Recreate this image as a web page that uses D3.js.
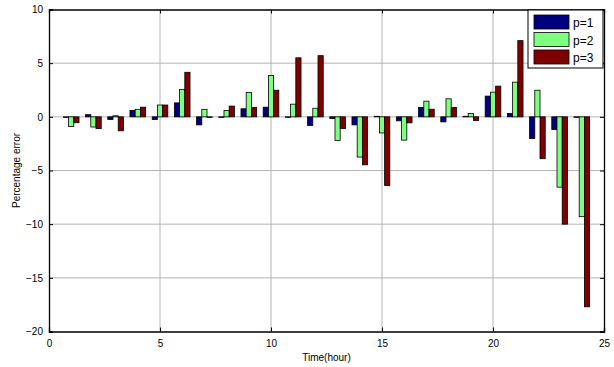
<!DOCTYPE html>
<html>
<head>
<meta charset="utf-8">
<script src="https://cdn.jsdelivr.net/npm/d3@7"></script>
<style>
  body { margin: 0; background: #fff; }
  text { font-family: "Liberation Sans", Arial, sans-serif; }
</style>
</head>
<body>
<div id="chart"></div>
<script>
// hours 1..24, percentage error per model order p
const hours = d3.range(1, 25);
const p1 = [-0.05, 0.2, -0.25, 0.6, -0.25, 1.3, -0.75, -0.05, 0.75, 0.9, -0.05, -0.8,
            -0.15, -0.75, 0.05, -0.37, 0.87, -0.47, 0.05, 1.93, 0.31, -2.02, -1.18, -0.05];
const p2 = [-0.9, -0.95, 0.1, 0.7, 1.1, 2.55, 0.7, 0.6, 2.27, 3.85, 1.18, 0.8,
            -2.2, -3.75, -1.5, -2.17, 1.46, 1.68, 0.31, 2.3, 3.23, 2.48, -6.55, -9.3];
const p3 = [-0.55, -1.1, -1.3, 0.9, 1.1, 4.15, -0.05, 1.0, 0.87, 2.48, 5.5, 5.7,
            -1.1, -4.47, -6.4, -0.56, 0.71, 0.87, -0.34, 2.86, 7.1, -3.9, -10.0, -17.7];
const seriesNames = ['p=1', 'p=2', 'p=3'];
const seriesColors = ['#00007f', '#7fff7f', '#7f0000'];
const xTicks = [0, 5, 10, 15, 20, 25];
const yTicks = [-20, -15, -10, -5, 0, 5, 10];

const width = 614, height = 367;
const margin = {left: 49, right: 10, top: 9.5, bottom: 35.5};

const svg = d3.select('#chart').append('svg').attr('width', width).attr('height', height);

const x = d3.scaleLinear().domain([0, 25]).range([margin.left, width - margin.right]);
const y = d3.scaleLinear().domain([-20, 10]).range([height - margin.bottom, margin.top]);

// grid
svg.append('g').selectAll('line').data(xTicks.slice(1, -1)).enter().append('line')
    .attr('x1', d => x(d)).attr('x2', d => x(d))
    .attr('y1', y(10)).attr('y2', y(-20))
    .attr('stroke', '#b4b4b4').attr('stroke-width', 1);
svg.append('g').selectAll('line').data(yTicks.slice(1, -1)).enter().append('line')
    .attr('x1', x(0)).attr('x2', x(25))
    .attr('y1', d => y(d)).attr('y2', d => y(d))
    .attr('stroke', '#b4b4b4').attr('stroke-width', 1);

// bars
const series = [p1, p2, p3];
const barW = 0.235;
series.forEach((vals, s) => {
    svg.append('g').selectAll('rect').data(vals).enter().append('rect')
        .attr('x', (d, i) => x(hours[i] + (s - 1.5) * barW))
        .attr('width', x(barW) - x(0))
        .attr('y', d => y(Math.max(0, d)))
        .attr('height', d => Math.abs(y(d) - y(0)))
        .attr('fill', seriesColors[s])
        .attr('stroke', '#000').attr('stroke-width', 0.8);
});

// axes with inward ticks, box around
const axB = d3.axisBottom(x).tickValues(xTicks).tickSize(-4).tickPadding(8);
const axL = d3.axisLeft(y).tickValues(yTicks).tickSize(-4).tickPadding(6);
const axT = d3.axisTop(x).tickValues(xTicks).tickSize(-4).tickFormat('');
const axR = d3.axisRight(y).tickValues(yTicks).tickSize(-4).tickFormat('');

[[axB, `translate(0,${y(-20)})`], [axL, `translate(${x(0)},0)`],
 [axT, `translate(0,${y(10)})`], [axR, `translate(${x(25)},0)`]].forEach(([ax, tr]) => {
    const g = svg.append('g').attr('transform', tr).call(ax);
    g.select('.domain').attr('stroke', '#000').attr('stroke-width', 1.3);
    g.selectAll('.tick line').attr('stroke', '#000');
    g.selectAll('text').attr('font-size', 10).attr('fill', '#000')
        .style('font-family', '"Liberation Sans", Arial, sans-serif');
});

// axis labels
svg.append('text').attr('x', x(12.5)).attr('y', 361).attr('text-anchor', 'middle')
    .attr('font-size', 10).text('Time(hour)');
svg.append('text').attr('transform', `translate(20,${y(-5)}) rotate(-90)`)
    .attr('text-anchor', 'middle').attr('font-size', 10).text('Percentage error');

// legend
const lg = svg.append('g').attr('transform', 'translate(528,10)');
lg.append('rect').attr('width', 75).attr('height', 58)
    .attr('fill', '#fff').attr('stroke', '#000').attr('stroke-width', 1);
seriesNames.forEach((name, i) => {
    lg.append('rect').attr('x', 6).attr('y', 5 + i * 17.5).attr('width', 35).attr('height', 14)
        .attr('fill', seriesColors[i]).attr('stroke', '#000').attr('stroke-width', 0.8);
    lg.append('text').attr('x', 45).attr('y', 17 + i * 17.5)
        .attr('font-size', 12).text(name);
});
</script>
</body>
</html>
